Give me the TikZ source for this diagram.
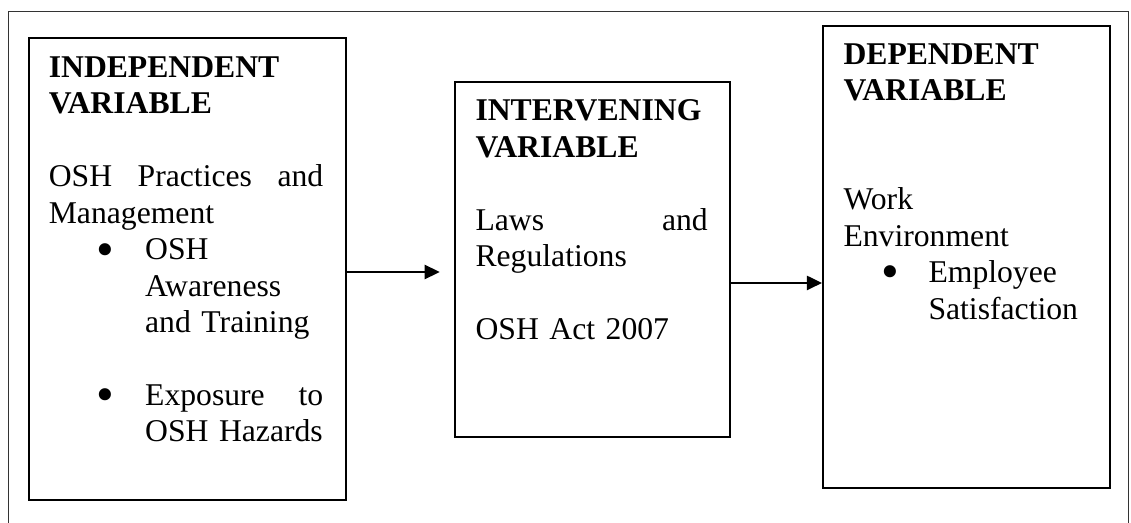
\documentclass[tikz,border=0pt]{standalone}
\usepackage{fontspec}
\setmainfont{Liberation Serif}
\usetikzlibrary{arrows.meta}
\tikzset{
    varbox/.style={draw,line width=0.8pt,anchor=north west,inner sep=0pt},
    vartext/.style={anchor=base west,inner sep=0pt,align=left,font=\fontsize{12pt}{13.8pt}\selectfont},
    arr/.style={line width=0.6pt,-{Triangle[length=0.2cm,width=0.19cm]}},
}
\newcommand{\bitem}[2]{\hspace*{#1}\makebox[#2][l]{\raisebox{-2.4pt}{\scalebox{1.6}{\textbullet}}}}

\begin{document}
\begin{tikzpicture}
        \useasboundingbox (0,0) rectangle (15.06,-6.964);
        \draw[line width=0.5pt,black!80] (0.11,-7.2) rectangle (15.03,-0.15);
        \node[varbox,minimum width=4.22cm,minimum height=6.15cm] (indep) at (0.373,-0.493) {};
        \node[varbox,minimum width=3.66cm,minimum height=4.73cm] (interv) at (6.045,-1.079) {};
        \node[varbox,minimum width=3.82cm,minimum height=6.15cm] (dep) at (10.945,-0.333) {};
        \node[vartext,text width=104pt] (indeptext) at ([shift={(0.27,-0.54)}]indep.north west)
        {\textbf{INDEPENDENT}\\ \textbf{VARIABLE}\\[13.8pt]
        OSH\hfill Practices\hfill and\\ Management\\
        \bitem{18pt}{18.5pt}OSH\\ \hspace*{36.5pt}Awareness\\ \hspace*{36.5pt}and Training\\[13.8pt]
        \bitem{18pt}{18.5pt}Exposure\hfill to\\ \hspace*{36.5pt}OSH Hazards};
        \node[vartext,text width=88pt] (intervtext) at ([shift={(0.28,-0.53)}]interv.north west)
        {\textbf{INTERVENING}\\ \textbf{VARIABLE}\\[13.8pt]
        Laws\hfill and\\ Regulations\\[13.8pt] OSH Act 2007};
        \node[vartext,text width=100pt] (deptext) at ([shift={(0.28,-0.52)}]dep.north west)
        {\textbf{DEPENDENT}\\ \textbf{VARIABLE}\\[27.6pt]
        Work\\ Environment\\
        \bitem{14.5pt}{17.7pt}Employee\\ \hspace*{32.2pt}Satisfaction};
        \coordinate (a1) at ([yshift=-0.04cm]indep.east);
        \coordinate (a2) at ([yshift=-0.31cm]interv.east);
        \draw[arr,shorten >=0.19cm] (a1) -- (a1 -| interv.west);
        \draw[arr] (a2) -- (a2 -| dep.west);
    \end{tikzpicture}
\end{document}
